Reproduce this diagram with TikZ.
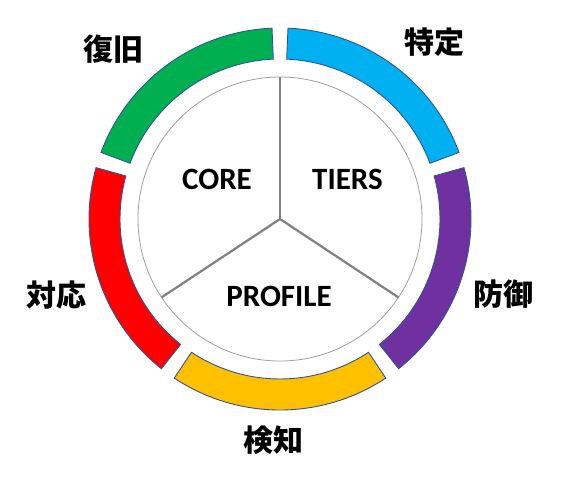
\documentclass[tikz,border=0pt]{standalone}
\usepackage{fontspec}
\setmainfont{Carlito}
\newfontfamily\jp{Noto Sans CJK JP}
\definecolor{cgreen}{HTML}{00B050}
\definecolor{cblue}{HTML}{00B0F0}
\definecolor{cpurple}{HTML}{7030A0}
\definecolor{cyellow}{HTML}{FFC000}
\definecolor{cred}{HTML}{FF0000}
\definecolor{cedge}{HTML}{2F5597}
\definecolor{cspoke}{HTML}{808080}
\tikzset{
  seg/.style={draw=cedge, line width=0.9pt},
  core/.style={font=\bfseries\fontsize{31}{34}\selectfont, text=black, inner sep=0pt},
  fn/.style={font=\jp\bfseries\fontsize{30}{32}\selectfont, text=black, inner sep=0pt},
  spoke/.style={draw=cspoke, line width=2.2pt},
}
\newcommand{\ringseg}[3]{%
  \path[seg, fill=#1] (c) ++(#2:191pt) arc[start angle=#2, end angle=#3, radius=191pt]
    -- ($(c)+(#3:160pt)$) arc[start angle=#3, end angle=#2, radius=160pt] -- cycle;}
\usetikzlibrary{calc}
\begin{document}
\begin{tikzpicture}[x=1pt,y=1pt]
\useasboundingbox (0,0) rectangle (561,-477);
\coordinate (c) at (280,-219);
% ring segments
\ringseg{cblue}{20.4}{87.6}
\ringseg{cpurple}{-51.6}{15.6}
\ringseg{cyellow}{-123.6}{-56.4}
\ringseg{cred}{164.4}{231.6}
\ringseg{cgreen}{92.4}{159.6}
% inner circle
\draw[draw=gray!75, line width=0.8pt] (c) circle[radius=142pt];
% spokes
\coordinate (s1) at ($(c)+(90:142pt)$);
\coordinate (s2) at ($(c)+(-33.5:142pt)$);
\coordinate (s3) at ($(c)+(-146.5:142pt)$);
\draw[spoke] (c) -- (s1);
\draw[spoke] (c) -- (s2);
\draw[spoke] (c) -- (s3);
% inner labels
\node[core] (coreL) at (217,-179) {CORE};
\node[core] (tiers) at (347.5,-179) {TIERS};
\node[core] (profile) at (279,-296.5) {PROFILE};
% function labels
\node[fn] (recover) at (113,-49.5) {復旧};
\node[fn] (identify) at (434.5,-42) {特定};
\node[fn] (protect) at (503.5,-294.5) {防御};
\node[fn] (respond) at (56,-295) {対応};
\node[fn] (detect) at (273.5,-440) {検知};
\end{tikzpicture}
\end{document}
